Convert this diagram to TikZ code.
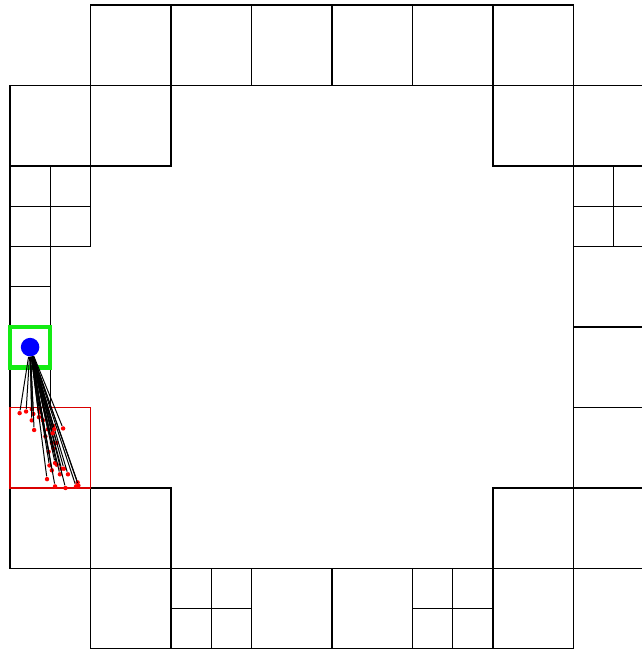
\documentclass[tikz,border=0pt]{standalone}
\usetikzlibrary{positioning}
\definecolor{verde}{RGB}{20,235,20}
\begin{document}
\begin{tikzpicture}[x=1cm,y=1cm]
  \tikzstyle{celula}=[draw=black,line width=0.45pt]
  \tikzstyle{amostra}=[circle,fill=red,inner sep=0pt,minimum size=0.055cm]
  \tikzstyle{raio}=[line width=0.35pt]
  \useasboundingbox (-0.124,0) rectangle (7.851,8.062);
  % celulas inteiras
  \foreach \i/\j in {1/0,2/0,3/0,4/0,5/0,6/0,0/1,1/1,6/1,7/1,7/3,7/4,7/5,0/6,1/6,6/6,7/6,1/7,3/7,4/7,6/7}
    \draw[celula] (\i,7-\j) rectangle ++(1,1);
  % celulas divididas
  \foreach \x/\y in {0/5.5,0.5/5.5,0/5,0.5/5,7/5.5,7.5/5.5,7/5,7.5/5,0/4.5,0/4,0/3,2/0.5,2.5/0.5,2/0,2.5/0,5/0.5,5.5/0.5,5/0,5.5/0}
    \draw[celula] (\x,\y) rectangle ++(0.5,0.5);
  \draw[red!85!black,line width=0.5pt] (0,2) rectangle (1,3);
  \draw[verde,line width=1.6pt] (0,3.5) rectangle (0.5,4);
  \node[circle,fill=blue,inner sep=0pt,minimum size=0.23cm] (fonte) at (0.25,3.75) {};
  \foreach \n/\x/\y in {1/0.12/2.93,2/0.20/2.95,3/0.27/2.98,4/0.29/2.92,5/0.27/2.84,6/0.30/2.72,
      7/0.36/2.98,8/0.37/2.94,9/0.36/2.88,10/0.41/2.84,11/0.47/2.73,12/0.54/2.77,13/0.66/2.74,
      14/0.44/2.64,15/0.52/2.56,16/0.58/2.56,17/0.54/2.49,18/0.48/2.45,19/0.56/2.31,20/0.49/2.28,
      21/0.52/2.22,22/0.58/2.29,23/0.64/2.24,24/0.67/2.24,25/0.62/2.17,26/0.72/2.17,27/0.46/2.11,
      28/0.56/2.02,29/0.69/2.00,30/0.84/2.07,31/0.85/2.03,32/0.82/2.02,33/0.55/2.73,34/0.53/2.68}{
    \node[amostra] (p\n) at (\x,\y) {};
    \draw[raio] (fonte) -- (p\n);
  }
\end{tikzpicture}
\end{document}
